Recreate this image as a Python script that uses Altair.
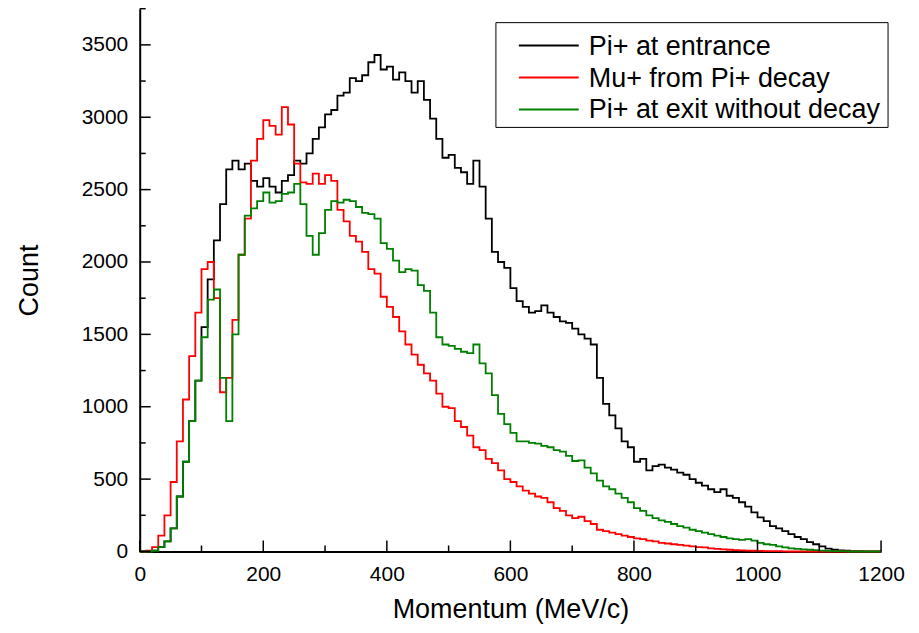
import altair as alt
import pandas as pd

# Bin edges: 10 MeV/c bins from 0 to 1200
bin_width = 10
n_bins = 120

pi_entrance = [
    0, 0, 5, 30, 70, 160, 380, 620, 900, 1180,
    1550, 1880, 2150, 2400, 2640, 2700, 2640, 2680, 2560, 2520,
    2580, 2520, 2480, 2560, 2600, 2700, 2680, 2750, 2850, 2930,
    3020, 3050, 3150, 3170, 3270, 3250, 3290, 3380, 3430, 3330,
    3350, 3260, 3310, 3250, 3170, 3250, 3120, 2990, 2850, 2720,
    2740, 2650, 2620, 2540, 2700, 2520, 2300, 2070, 2000, 1960,
    1820, 1730, 1690, 1650, 1660, 1700, 1650, 1620, 1590, 1580,
    1540, 1500, 1470, 1430, 1200, 1020, 940, 850, 760, 720,
    620, 640, 560, 590, 600, 580, 565, 545, 530, 500,
    475, 455, 430, 410, 430, 385, 370, 340, 310, 270,
    235, 210, 175, 160, 140, 120, 100, 85, 65, 50,
    35, 20, 12, 8, 5, 3, 2, 1, 0, 0,
]

mu_decay = [
    0, 5, 30, 110, 250, 480, 760, 1050, 1350, 1650,
    1950, 2000, 1750, 1100, 1200, 1600, 2050, 2300, 2700, 2850,
    2980, 2940, 2880, 3070, 2950, 2680, 2550, 2540, 2610, 2540,
    2600, 2560, 2360, 2280, 2180, 2140, 2070, 1950, 1920, 1760,
    1690, 1620, 1520, 1430, 1360, 1290, 1230, 1180, 1090, 1000,
    990, 900, 860, 800, 720, 700, 640, 610, 560, 500,
    480, 450, 420, 400, 380, 370, 340, 300, 280, 250,
    230, 240, 210, 190, 150, 140, 130, 120, 110, 100,
    90, 85, 75, 70, 60, 55, 50, 45, 40, 35,
    30, 28, 22, 18, 15, 12, 10, 8, 6, 5,
    4, 3, 2, 2, 1, 0, 0, 0, 0, 0,
    0, 0, 0, 0, 0, 0, 0, 0, 0, 0,
]

pi_exit = [
    0, 0, 5, 30, 70, 160, 380, 620, 900, 1180,
    1480, 1740, 1810, 1200, 900, 1500, 2050, 2320, 2370, 2420,
    2480, 2410, 2420, 2470, 2480, 2540, 2400, 2180, 2050, 2200,
    2360, 2420, 2410, 2430, 2420, 2380, 2340, 2330, 2300, 2130,
    2090, 2010, 1930, 1950, 1940, 1840, 1800, 1650, 1480, 1430,
    1420, 1400, 1380, 1370, 1430, 1300, 1230, 1080, 950, 880,
    820, 760, 760, 750, 745, 730, 720, 700, 690, 660,
    625, 630, 580, 540, 490, 450, 430, 400, 370, 340,
    300, 280, 250, 230, 215, 205, 190, 175, 165, 150,
    140, 130, 120, 110, 100, 90, 85, 80, 85, 75,
    60, 50, 45, 35, 28, 22, 18, 14, 12, 10,
    6, 4, 3, 2, 1, 0, 0, 0, 0, 0,
]

series_names = ["Pi+ at entrance", "Mu+ from Pi+ decay", "Pi+ at exit without decay"]
series_colors = ["#000000", "#ff0000", "#008000"]
series_values = [pi_entrance, mu_decay, pi_exit]

x_major = [0, 200, 400, 600, 800, 1000, 1200]
x_minor = [100, 300, 500, 700, 900, 1100]
y_major = [0, 500, 1000, 1500, 2000, 2500, 3000, 3500]
y_minor = [250, 750, 1250, 1750, 2250, 2750, 3250, 3750]

rows = []
for name, vals in zip(series_names, series_values):
    for i, v in enumerate(vals):
        rows.append({"series": name, "p": i * bin_width, "count": v})
    rows.append({"series": name, "p": n_bins * bin_width, "count": vals[-1]})
df = pd.DataFrame(rows)

FONT = "Liberation Sans"
W, H = 743, 544

xscale = alt.Scale(domain=[0, 1200], nice=False, zero=False)
yscale = alt.Scale(domain=[0, 3750], nice=False)

xaxis = alt.Axis(
    values=x_major, format="d", ticks=False, grid=False, labelFontSize=21,
    labelFont=FONT, labelColor="black", labelPadding=12,
    title="Momentum (MeV/c)", titleFontSize=27, titleFont=FONT,
    titleFontWeight="normal", titleColor="black", titlePadding=12,
    domainColor="black", domainWidth=2, labelFlush=False,
)
yaxis = alt.Axis(
    values=y_major, format="d", ticks=False, grid=False, labelFontSize=21,
    labelFont=FONT, labelColor="black", labelPadding=12,
    title="Count", titleFontSize=27, titleFont=FONT,
    titleFontWeight="normal", titleColor="black", titlePadding=38,
    domainColor="black", domainWidth=2, labelFlush=False,
)

def series_layer(name, color):
    return (
        alt.Chart(df)
        .transform_filter(alt.datum.series == name)
        .mark_line(interpolate="step-after", strokeWidth=1.8, color=color)
        .encode(
            x=alt.X("p:Q", scale=xscale, axis=xaxis),
            y=alt.Y("count:Q", scale=yscale, axis=yaxis),
        )
    )

def tick_x(vals, length):
    return alt.Chart(pd.DataFrame({"p": vals})).mark_rule(color="black", strokeWidth=1.5).encode(
        x=alt.X("p:Q", scale=xscale, axis=xaxis), y=alt.value(H), y2=alt.value(H - length))

def tick_y(vals, length):
    return alt.Chart(pd.DataFrame({"count": vals})).mark_rule(color="black", strokeWidth=1.5).encode(
        y=alt.Y("count:Q", scale=yscale, axis=yaxis), x=alt.value(0), x2=alt.value(length))

# manual legend (pixel layout)
one = pd.DataFrame({"a": [0]})
LX0, LX1, LY0, LY1 = 357, 750, 14, 119
legend_box = alt.Chart(one).mark_rect(fill="white", stroke="black", strokeWidth=1).encode(
    x=alt.value(LX0), x2=alt.value(LX1), y=alt.value(LY0), y2=alt.value(LY1))
legend_layers = [legend_box]
for k, (name, color) in enumerate(zip(series_names, series_colors)):
    yy = 37 + 32 * k
    legend_layers.append(
        alt.Chart(one).mark_rule(color=color, strokeWidth=2).encode(
            x=alt.value(380), x2=alt.value(440), y=alt.value(yy)))
    legend_layers.append(
        alt.Chart(one).mark_text(text=name, font=FONT, fontSize=27, color="black",
                                 align="left", baseline="middle").encode(
            x=alt.value(450), y=alt.value(yy + 1)))

chart = alt.layer(
    series_layer(series_names[0], series_colors[0]),
    series_layer(series_names[1], series_colors[1]),
    series_layer(series_names[2], series_colors[2]),
    tick_x(x_major, 11), tick_x(x_minor, 6), tick_y(y_major, 11), tick_y(y_minor, 6),
    *legend_layers,
).properties(
    width=W, height=H,
    autosize=alt.AutoSizeParams(type="none"),
    padding={"left": 132, "top": 0, "right": 30, "bottom": 75},
).configure_view(stroke=None)

chart.save("out.html", embed_options={"renderer": "svg", "actions": False})
